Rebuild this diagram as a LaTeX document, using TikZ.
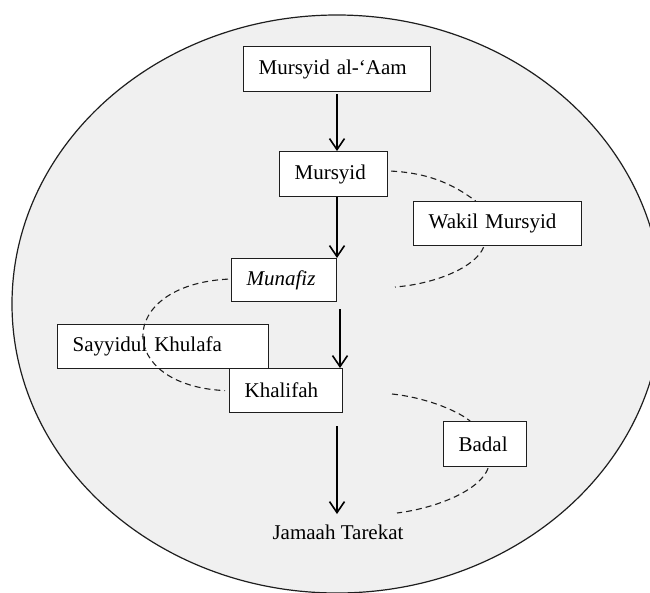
\documentclass[tikz,border=0pt]{standalone}
\usepackage{fontspec}
\setmainfont{Liberation Serif}
\usetikzlibrary{arrows.meta,calc}
\definecolor{bgfill}{RGB}{240,240,240}
\definecolor{edge}{RGB}{30,30,30}
\begin{document}
\begin{tikzpicture}[x=1pt,y=-1pt,
  lbl/.style={font=\fontsize{21}{25}\selectfont},
  box/.style={lbl, draw=edge, line width=1.2pt, fill=white, rectangle,
    inner xsep=15pt, inner ysep=0pt, align=left, anchor=north west},
  arr/.style={-{Straight Barb[length=11pt,width=15pt,line width=1.6pt]}, line width=1.6pt, draw=black},
  dsh/.style={dash pattern=on 6pt off 4pt, line width=1.1pt, draw=edge}]
\useasboundingbox (0,0) rectangle (650,592);
\clip (0,0) rectangle (650,592);
\draw[fill=bgfill, line width=1.2pt, draw=edge] (337,304) ellipse [x radius=325pt, y radius=289pt];

\coordinate (axisA) at (337,0);
\coordinate (axisB) at (340,0);

\node[box, text width=157pt, minimum height=45pt] (MA) at (243,46) {Mursyid al-‘Aam};
\node[box, text width=78pt, minimum height=45pt] (M) at (279,151) {Mursyid};
\node[box, text width=75pt, minimum height=43pt] (MU) at (231,258) {\itshape Munafiz};
\node[box, text width=138pt, minimum height=44pt] (WM) at (413,201) {Wakil Mursyid};
\node[box, text width=181pt, minimum height=44pt] (SK) at (57,324) {Sayyidul Khulafa};
\node[box, text width=83pt, minimum height=44pt] (KH) at (229,368) {Khalifah};
\node[box, text width=53pt, minimum height=45pt] (BD) at (443,421) {Badal};
\node[lbl, anchor=base, inner sep=0pt] (JT) at (338,539) {Jamaah Tarekat};

% vertical arrows
\draw[arr] ($(MA.south -| axisA)+(0,2)$) -- (M.north -| axisA);
\draw[arr] (M.south -| axisA) -- (MU.north -| axisA);
\draw[arr] ($(MU.south -| axisB)+(0,7)$) -- (KH.north -| axisB);
\draw[arr] ($(KH.south -| axisA)+(0,13)$) -- ($(JT.base -| axisA)+(0,-25)$);

% free ends of dashed arcs
\coordinate (w2) at (395,287);
\coordinate (b1) at (392,394);
\coordinate (b2) at (397,513);

% dashed arcs
\draw[dsh] ($(M.east)+(3,-3)$) .. controls +(40,2) and +(-20,-15) .. ($(WM.north)+(-22,0)$);
\draw[dsh] ($(WM.south)+(-14,1)$) .. controls +(-8,20) and +(40,-3) .. (w2);
\draw[dsh] ($(MU.west)+(-3,-1)$) .. controls +(-113,6) and +(-110,-5) .. ($(KH.west)+(-4,0)$);
\draw[dsh] (b1) .. controls +(30,3) and +(-15,-12) .. ($(BD.north)+(-15,0)$);
\draw[dsh] ($(BD.south)+(3,1)$) .. controls +(-8,22) and +(40,-5) .. (b2);
\end{tikzpicture}
\end{document}
